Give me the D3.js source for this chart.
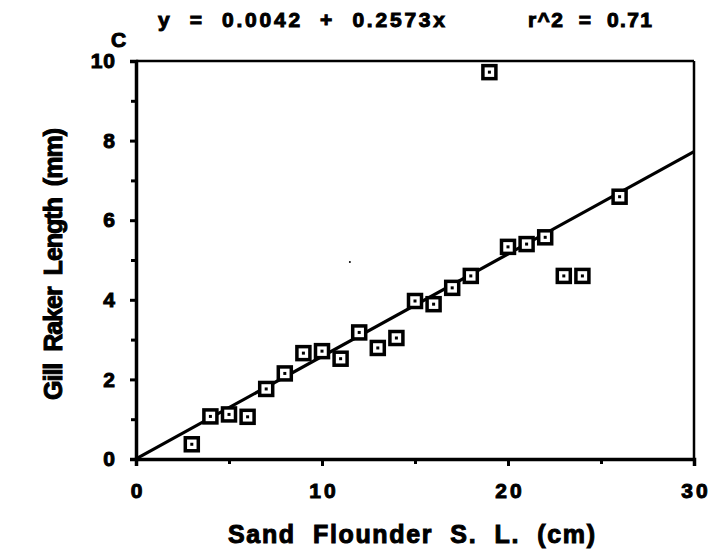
<!DOCTYPE html>
<html><head><meta charset="utf-8">
<script src="https://cdn.jsdelivr.net/npm/d3@7"></script>
<style>
body{margin:0;background:#fff;}
svg text{font-family:"Liberation Sans",Arial,sans-serif;font-weight:bold;fill:#000;stroke:#000;stroke-width:1px;white-space:pre;}
</style></head><body>
<script>
const xValues = [3,4,5,6,7,8,9,10,11,12,13,14,15,16,17,18,19,20,21,22,23,24,26];
const yValues = [0.37,1.07,1.12,1.06,1.76,2.15,2.66,2.71,2.52,3.18,2.79,3.04,3.97,3.89,4.3,4.6,9.72,5.33,5.4,5.57,4.6,4.6,6.59];
const xTicks = [0,10,20,30];
const yTicks = [0,2,4,6,8,10];
const intercept = 0.0042, slope = 0.2573;

const W=712,H=552;
const svg=d3.select("body").append("svg").attr("width",W).attr("height",H);
const x=d3.scaleLinear().domain([0,30]).range([136,694]);
const y=d3.scaleLinear().domain([0,10]).range([459,61]);

// frame top/right
svg.append("line").attr("x1",x(0)).attr("x2",x(30)).attr("y1",y(10)).attr("y2",y(10)).attr("stroke","#000").attr("stroke-width",2.5);
svg.append("line").attr("x1",x(30)).attr("x2",x(30)).attr("y1",y(10)).attr("y2",y(0)).attr("stroke","#000").attr("stroke-width",2.5);

const xa=svg.append("g").attr("transform",`translate(0,${y(0)})`)
  .call(d3.axisBottom(x).tickValues(xTicks).tickSize(7).tickPadding(17).tickFormat(d3.format("d")));
const xm=svg.append("g").attr("transform",`translate(0,${y(0)})`)
  .call(d3.axisBottom(x).tickValues([5,15,25]).tickSize(5).tickFormat(""));
const ya=svg.append("g").attr("transform",`translate(${x(0)},0)`)
  .call(d3.axisLeft(y).tickValues(yTicks).tickSize(6).tickPadding(14).tickFormat(d3.format("d")));
const ym=svg.append("g").attr("transform",`translate(${x(0)},0)`)
  .call(d3.axisLeft(y).tickValues([1,3,5,7,9]).tickSize(5).tickFormat(""));
[xa,xm,ya,ym].forEach(g=>{
  g.attr("font-size",null).attr("font-family",null);
  g.select(".domain").attr("stroke","#000").attr("stroke-width",3.5);
  g.selectAll(".tick line").attr("stroke","#000").attr("stroke-width",3);
  g.selectAll("text").style("font-size","21px");
});
xa.selectAll("text").style("letter-spacing","3px").attr("dx","1.5px");
ya.selectAll("text").style("letter-spacing","1px");
ym.select(".domain").remove(); xm.select(".domain").remove();

// regression line
svg.append("line").attr("x1",x(0)).attr("y1",y(intercept)).attr("x2",x(30)).attr("y2",y(intercept+slope*30))
  .attr("stroke","#000").attr("stroke-width",3.2);

// points
const pts=svg.append("g");
xValues.forEach((v,i)=>{
  pts.append("rect").attr("x",x(v)-6.5).attr("y",y(yValues[i])-6.5).attr("width",13).attr("height",13)
    .attr("fill","#fff").attr("stroke","#000").attr("stroke-width",3.5);
  pts.append("rect").attr("x",x(v)-1.5).attr("y",y(yValues[i])-1.5).attr("width",3).attr("height",3).attr("fill","#000");
});

// a small stray dot as in scan
svg.append("circle").attr("cx",x(11.5)).attr("cy",y(4.95)).attr("r",1).attr("fill","#000");

// texts
svg.append("text").attr("x",158).attr("y",27).style("font-size","21px").attr("textLength",287).attr("lengthAdjust","spacing").text("y  =  0.0042  +  0.2573x");
svg.append("text").attr("x",528).attr("y",27).style("font-size","21px").attr("textLength",124).attr("lengthAdjust","spacing").text("r^2  =  0.71");
svg.append("text").attr("x",111).attr("y",47).style("font-size","21px").text("C");
svg.append("text").attr("x",228).attr("y",543).style("font-size","25px").attr("textLength",367).attr("lengthAdjust","spacing").text("Sand  Flounder  S.  L.  (cm)");
svg.append("text").attr("transform","translate(62,400) rotate(-90)").style("font-size","25px").attr("textLength",272).attr("lengthAdjust","spacing").text("Gill  Raker  Length  (mm)");
</script></body></html>
